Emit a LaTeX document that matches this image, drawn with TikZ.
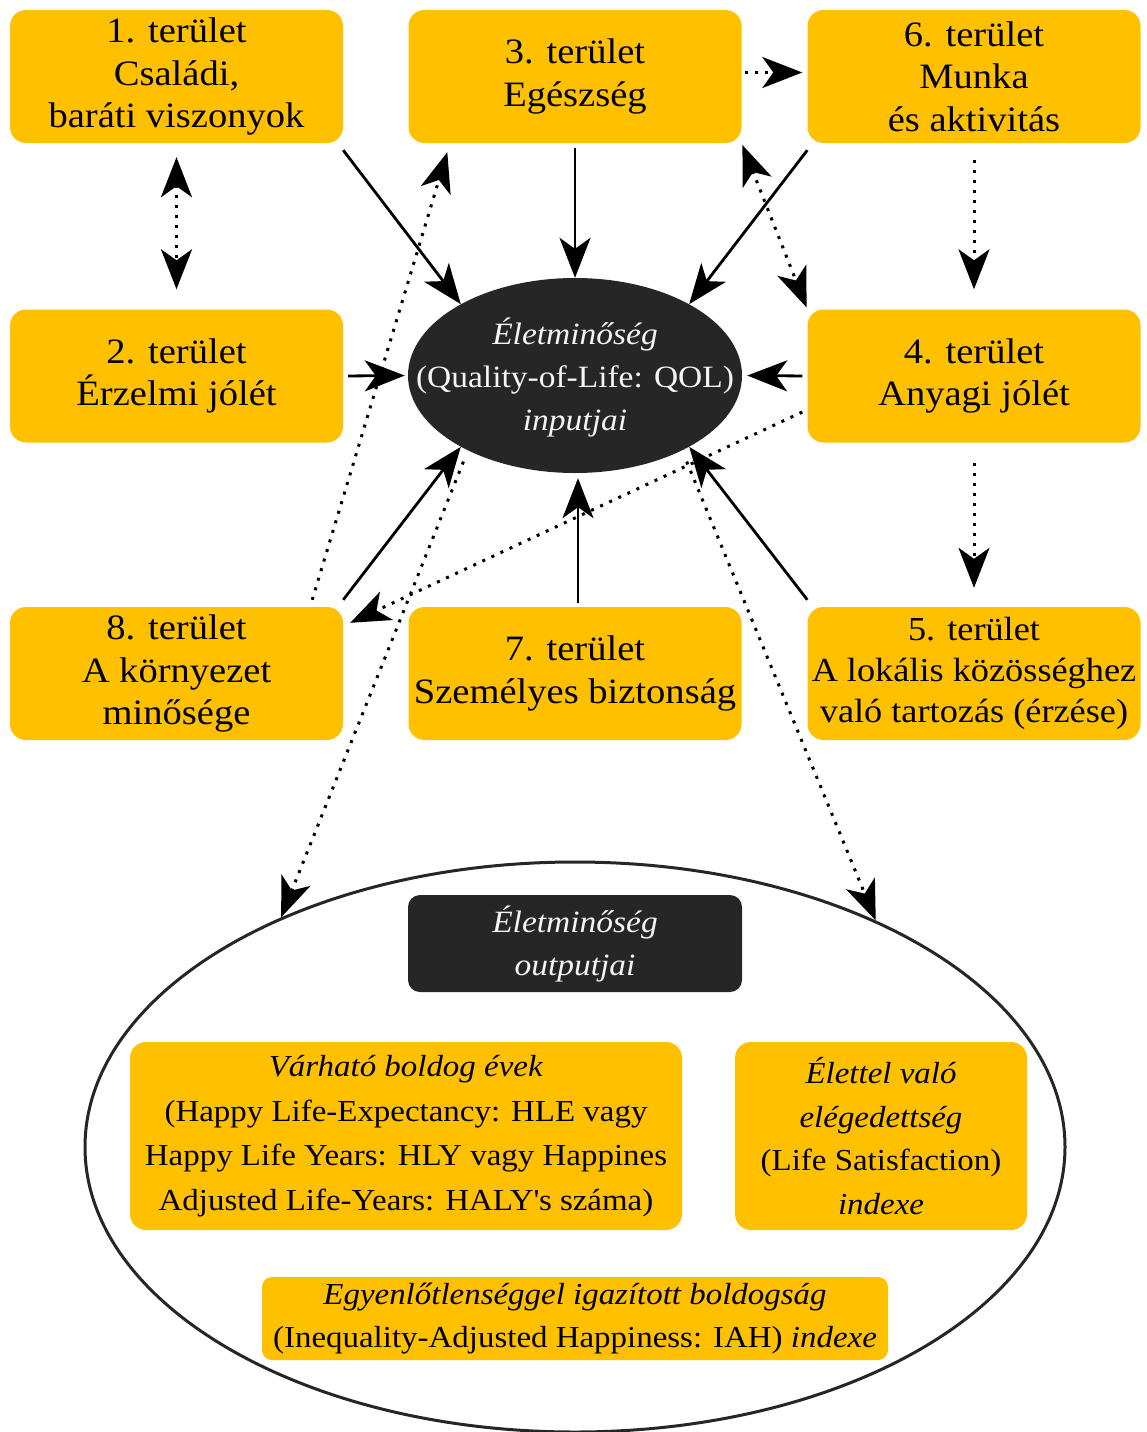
\documentclass[tikz,border=0pt]{standalone}
\usepackage{fontspec}
\setmainfont{Liberation Serif}[FakeStretch=1.08]
\usetikzlibrary{arrows.meta,shapes.geometric}
\definecolor{amber}{HTML}{FFC000}
\definecolor{ink}{HTML}{262626}
\definecolor{paper}{HTML}{F4F4F4}

\begin{document}
\begin{tikzpicture}[x=1pt,y=-1pt,
  area/.style={fill=amber, rounded corners=16pt, minimum width=333pt,
    minimum height=133pt, align=center, inner sep=0pt,
    font=\fontsize{35.7}{42.5}\selectfont},
  outbox/.style={fill=amber, rounded corners=16pt, align=center, inner sep=0pt,
    font=\fontsize{30.5}{44.5}\selectfont},
  darklabel/.style={text=paper, align=center, inner sep=0pt,
    font=\fontsize{31}{43}\selectfont},
  tip/.style={-{Stealth[length=40pt,width=31pt,inset=11pt]}},
  bothtips/.style={{Stealth[length=40pt,width=31pt,inset=11pt]}-{Stealth[length=40pt,width=31pt,inset=11pt]}},
  solidline/.style={line width=2.8pt, tip},
  dotline/.style={line width=3pt, dash pattern=on 3pt off 7pt, tip},
]
\useasboundingbox (0,0) rectangle (1146,1432);

% outputs: large ellipse and its contents
\node[ellipse, draw=ink, line width=3pt, minimum width=980pt, minimum height=570pt, inner sep=0pt] (big) at (575,1147) {};
\node[fill=ink, rounded corners=12pt, minimum width=334pt, minimum height=97pt, inner sep=0pt] (outhead) at (575,943.5) {};
\node[darklabel] (outtext) at (outhead) {\textit{Életminőség}\\\textit{outputjai}};
\node[outbox, minimum width=552pt, minimum height=188pt] (hle) at (406,1136)
  {\textit{Várható boldog évek}\\(Happy Life-Expectancy: HLE vagy\\Happy Life Years: HLY vagy Happines\\Adjusted Life-Years: HALY\textquotesingle s száma)};
\node[outbox, minimum width=292pt, minimum height=188pt, font=\fontsize{30.5}{43.5}\selectfont] (ls) at (881,1136)
  {\textit{Élettel való}\\\textit{elégedettség}\\(Life Satisfaction)\\\textit{indexe}};
\node[outbox, rounded corners=10pt, minimum width=626pt, minimum height=83pt, font=\fontsize{30.5}{43}\selectfont] (iah) at (575,1318.5)
  {\textit{Egyenlőtlenséggel igazított boldogság}\\(Inequality-Adjusted Happiness: IAH) \textit{indexe}};

% inputs: central ellipse
\node[ellipse, fill=ink, minimum width=334pt, minimum height=195pt, inner sep=0pt] (ell) at (575,375.5) {};
\node[darklabel] (elltext) at (575,377) {\textit{Életminőség}\\(Quality-of-Life: QOL)\\\textit{inputjai}};

% the eight areas
\node[area] (b1) at (176.5,76.5) {1. terület\\Családi,\\baráti viszonyok};
\node[area] (b3) at (575,76.5) {3. terület\\Egészség};
\node[area] (b6) at (974,76.5) {6. terület\\Munka\\és aktivitás};
\node[area] (b2) at (176.5,376) {2. terület\\Érzelmi jólét};
\node[area] (b4) at (974,376) {4. terület\\Anyagi jólét};
\node[area] (b8) at (176.5,673.5) {8. terület\\A környezet\\minősége};
\node[area] (b7) at (575,673.5) {7. terület\\Személyes biztonság};
\node[area, font=\fontsize{33.6}{41}\selectfont] (b5) at (974,673.5) {5. terület\\A lokális közösséghez\\való tartozás (érzése)};

% solid arrows into the inputs ellipse
\draw[solidline] ([yshift=-7pt]b1.south east) -- (ell.148);
\draw[solidline, shorten <=5pt] (b3.south) -- (ell.north);
\draw[solidline] ([yshift=-7pt]b6.south west) -- (ell.32);
\draw[solidline, shorten <=5pt, shorten >=3pt] (b2.east) -- (ell.west);
\draw[solidline, shorten <=5pt, shorten >=5pt] (b4.west) -- (ell.east);
\draw[solidline] ([yshift=7pt]b8.north east) -- (ell.212);
\draw[solidline, shorten <=4pt, shorten >=5pt] ([xshift=3pt]b7.north) -- ([xshift=3pt]ell.south);
\draw[solidline] ([yshift=7pt]b5.north west) -- (ell.328);

% dotted links between areas
\draw[dotline, bothtips, shorten <=14pt, shorten >=20pt] (b1.south) -- (b2.north);
\draw[dotline, shorten <=3pt, shorten >=5pt] ([yshift=4pt]b3.east) -- ([yshift=4pt]b6.west);
\draw[dotline, shorten <=17pt, shorten >=20pt] (b6.south) -- (b4.north);
\draw[dotline, shorten <=20pt, shorten >=19pt] (b4.south) -- (b5.north);
\draw[dotline, bothtips, shorten <=2pt, shorten >=2pt] (b3.south east) -- (b4.north west);
\draw[dotline] ([xshift=-31pt,yshift=7pt]b8.north east) -- ([xshift=39pt,yshift=-9pt]b3.south west);
\draw[dotline] ([xshift=-5pt,yshift=-36pt]b4.west) -- ([xshift=7pt,yshift=-16pt]b8.north east);

% dotted links to the outputs
\draw[dotline, shorten <=12pt] (ell.215) -- (big.142);
\draw[dotline, shorten <=12pt] (ell.325) -- (big.37);
\end{tikzpicture}
\end{document}
